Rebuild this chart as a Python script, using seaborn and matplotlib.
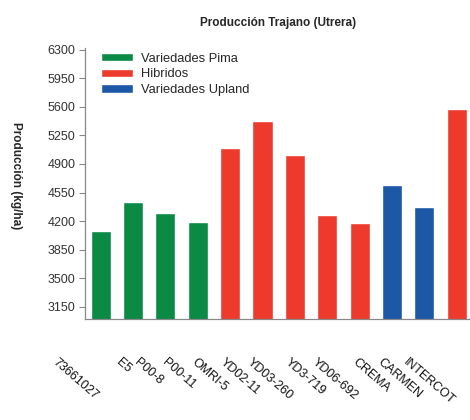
import matplotlib
matplotlib.use("Agg")
import matplotlib.pyplot as plt
import seaborn as sns
import pandas as pd

# data
variedades = ["73661027", "E5", "P00-8", "P00-11", "OMRI-5", "YD02-11", "YD03-260",
              "YD3-719", "YD06-692", "CREMA", "CARMEN", "INTERCOT"]
produccion = [4080, 4440, 4305, 4190, 5090, 5430, 5010, 4280, 4175, 4645, 4375, 5570]
grupo = ["Variedades Pima"] * 4 + ["Hibridos"] * 5 + ["Variedades Upland"] * 2 + ["Hibridos"]
grupos = ["Variedades Pima", "Hibridos", "Variedades Upland"]
colores = ["#0a8a45", "#ee3a2c", "#1c58a6"]
yticks = [3150, 3500, 3850, 4200, 4550, 4900, 5250, 5600, 5950, 6300]

df = pd.DataFrame({"variedad": variedades, "produccion": produccion, "grupo": grupo})

sns.set_style("white")
plt.rcParams["font.family"] = ["Liberation Sans", "DejaVu Sans"]

fig = plt.figure(figsize=(4.7, 4.2), dpi=100)
ax = fig.add_axes([0.181, 0.24, 0.822, 0.646])

sns.barplot(data=df, x="variedad", y="produccion", hue="grupo", hue_order=grupos,
            palette=colores, dodge=False, width=0.62, saturation=1, ax=ax)

ax.set_ylim(3000, 6320)
ax.set_xlim(-0.48, 11.45)
ax.set_yticks(yticks)
ax.set_yticklabels([str(v) for v in yticks], fontsize=9, color="#333333")
ax.tick_params(axis="y", length=4, width=0.8, color="#888888", pad=3, left=True)
ax.tick_params(axis="x", length=0, pad=27)
for lbl in ax.get_xticklabels():
    lbl.set_rotation(-41)
    lbl.set_ha("right")
    lbl.set_va("top")
    lbl.set_fontsize(9)
    lbl.set_color("#111111")

for side in ["top", "right"]:
    ax.spines[side].set_visible(False)
for side in ["left", "bottom"]:
    ax.spines[side].set_color("#888888")
    ax.spines[side].set_linewidth(0.9)

ax.set_xlabel("")
ax.set_ylabel("Producción (kg/ha)", fontsize=8.5, fontweight="bold", rotation=-90,
              va="center")
ax.yaxis.set_label_coords(-0.178, 0.528)
ax.set_title("Producción Trajano (Utrera)", fontsize=8.5, fontweight="bold", pad=16)

leg = ax.legend(loc="upper left", bbox_to_anchor=(0.04, 0.982), frameon=False,
                fontsize=9.3, handlelength=2.5, handleheight=0.6, labelspacing=0.28,
                handletextpad=0.6, borderpad=0, borderaxespad=0)

fig.savefig("out.png", dpi=100)
